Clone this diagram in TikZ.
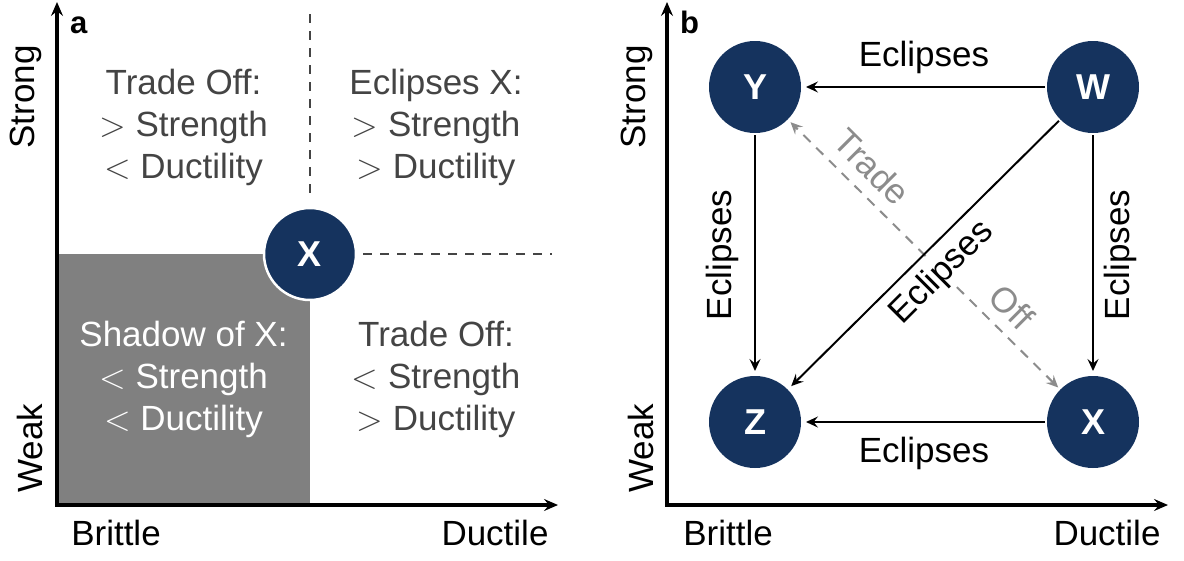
\documentclass[tikz,border=0pt]{standalone}
\usepackage{fontspec}
\setmainfont{Liberation Sans}
\newfontfamily\lmr{Latin Modern Roman}
\usetikzlibrary{arrows.meta}
\definecolor{navy}{HTML}{15335E}
\definecolor{darkgraytxt}{HTML}{444444}
\definecolor{lightgraytxt}{HTML}{8C8C8C}
\definecolor{shadegray}{HTML}{808080}
\newcommand{\gtsym}{{\lmr >}}
\newcommand{\ltsym}{{\lmr <}}
\tikzset{
  lbl/.style={font=\fontsize{35}{42}\selectfont, inner sep=0pt, outer sep=0pt},
  quad/.style={lbl, align=center, text=darkgraytxt},
  circ/.style={circle, fill=navy, minimum size=92pt, inner sep=0pt, outer sep=0pt, text=white, font=\fontsize{36}{40}\selectfont\bfseries},
  conn/.style={line width=2pt, -{Stealth[length=12pt,width=11pt,inset=4.5pt]}, shorten >=5pt, shorten <=2pt},
  axis/.style={line width=3.5pt, {Stealth[length=14pt,width=12pt,inset=5pt]}-{Stealth[length=14pt,width=12pt,inset=5pt]}},
  guide/.style={line width=2pt, darkgraytxt, dash pattern=on 9pt off 8pt},
  tradeoff/.style={line width=2pt, lightgraytxt, dash pattern=on 10pt off 8pt, {Stealth[length=12pt,width=11pt,inset=4.5pt]}-{Stealth[length=12pt,width=11pt,inset=4.5pt]}, shorten >=4pt, shorten <=3pt},
  panel/.style={font=\fontsize{31}{36}\selectfont\bfseries, inner sep=0pt}
}
\begin{document}
\begin{tikzpicture}[x=1pt,y=-1pt]
\useasboundingbox (0,0) rectangle (1184,560);
% ---------- panel a ----------
\fill[shadegray] (57,254) rectangle (310,505);
\draw[guide] (310,14) -- (310,200);
\draw[guide] (363,254) -- (552,254);
\draw[axis] (57,2) -- (57,505) -- (558,505);
\node[circ, draw=white, line width=2.5pt] (Xa) at (310,254) {X};
\node[panel, anchor=base west] (la) at (70,33) {a};
\node[quad] (q1) at (183.5,127) {Trade Off:\\\gtsym{} Strength\\\ltsym{} Ductility};
\node[quad] (q2) at (436,127) {Eclipses X:\\\gtsym{} Strength\\\gtsym{} Ductility};
\node[quad, text=white] (q3) at (183.5,379) {Shadow of X:\\\ltsym{} Strength\\\ltsym{} Ductility};
\node[quad] (q4) at (436,379) {Trade Off:\\\ltsym{} Strength\\\gtsym{} Ductility};
\node[lbl, rotate=90] (sa) at (26,97) {Strong};
\node[lbl, rotate=90] (wa) at (30,448) {Weak};
\node[lbl, anchor=base] (ba) at (116,545) {Brittle};
\node[lbl, anchor=base] (da) at (495,545) {Ductile};
% ---------- panel b ----------
\draw[axis] (667,2) -- (667,505) -- (1168,505);
\node[panel, anchor=base west] (lb) at (680,33) {b};
\node[lbl, rotate=90] (sb) at (637,97) {Strong};
\node[lbl, rotate=90] (wb) at (641,448) {Weak};
\node[lbl, anchor=base] (bb) at (728,545) {Brittle};
\node[lbl, anchor=base] (db) at (1107,545) {Ductile};
\node[circ] (Y) at (755,87) {Y};
\node[circ] (W) at (1093,87) {W};
\node[circ] (Z) at (755,422) {Z};
\node[circ] (X) at (1093,422) {X};
\draw[tradeoff] (X) -- (Y);
\node[lbl, text=lightgraytxt, rotate=-45] (tr) at (872,167) {Trade};
\node[lbl, text=lightgraytxt, rotate=-45] (of) at (1012,307) {Off};
\node[lbl, rotate=45, fill=white, inner sep=4pt] (ed) at (942,273) {Eclipses};
\draw[conn] (W) -- (Y);
\draw[conn] (X) -- (Z);
\draw[conn] (Y) -- (Z);
\draw[conn] (W) -- (X);
\draw[conn] (W) -- (Z);
\node[lbl, anchor=base] (e1) at (924,66) {Eclipses};
\node[lbl, anchor=base] (e2) at (924,462) {Eclipses};
\node[lbl, rotate=90] (e3) at (722,255) {Eclipses};
\node[lbl, rotate=90] (e4) at (1120,255) {Eclipses};
\end{tikzpicture}
\end{document}
